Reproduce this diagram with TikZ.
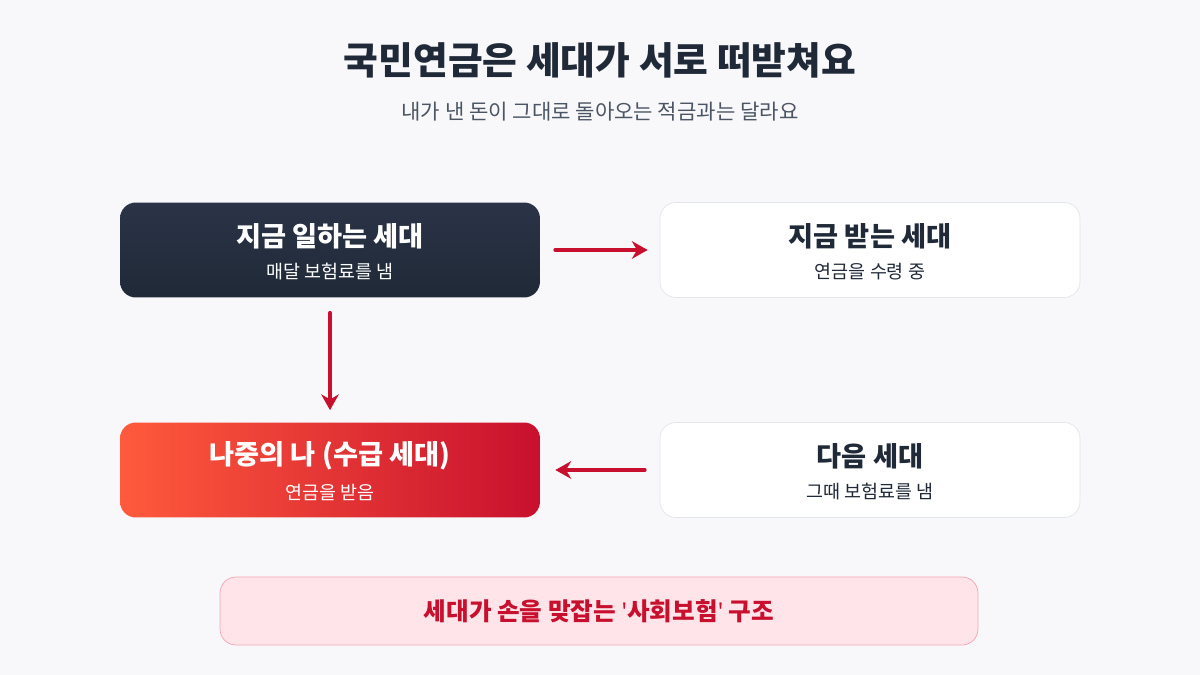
\documentclass[tikz,border=0pt]{standalone}
\usepackage{fontspec}
\setmainfont{Noto Sans CJK KR}
\newfontfamily\lat{Noto Sans}[Ligatures=ResetAll]
\newcommand{\kb}{\bfseries}
\newcommand{\sq}{{\lat\bfseries\char"27}}
\usetikzlibrary{arrows.meta}
\definecolor{dark}{HTML}{1F2937}
\definecolor{dark2}{HTML}{2B3447}
\definecolor{accent}{HTML}{C8102E}
\definecolor{orng}{HTML}{FF5A3C}
\definecolor{greyt}{HTML}{4B5563}
\definecolor{bord}{HTML}{E2E5EA}
\definecolor{bg}{HTML}{F8F8FA}
\definecolor{pinkf}{HTML}{FFE5EA}
\definecolor{pinkb}{HTML}{F4A3B0}
\tikzset{
  card/.style={rounded corners=9pt,minimum width=8.4cm,minimum height=1.9cm},
  lightcard/.style={card,draw=bord,fill=white},
  ttl/.style={font=\kb\fontsize{15.5}{17}\selectfont},
  sub/.style={font=\fontsize{10.5}{12}\selectfont},
  arr/.style={draw=accent,line width=2.2pt,-{Stealth[length=9pt,width=10pt]},line cap=round}
}
\begin{document}
\begin{tikzpicture}[x=0.02cm,y=-0.02cm]
\fill[bg] (0,0) rectangle (1200,675);
\useasboundingbox (0,0) rectangle (1200,675);
\node[font=\kb\fontsize{21.5}{24}\selectfont,text=dark] (t) at (600,60) {국민연금은 세대가 서로 떠받쳐요};
\node[font=\fontsize{12}{14}\selectfont,text=greyt] (s) at (600,112) {내가 낸 돈이 그대로 돌아오는 적금과는 달라요};
\node[card,top color=dark2,bottom color=dark,draw=none] (a) at (330,250) {};
\node[ttl,text=white] at (330,236) {지금 일하는 세대};
\node[sub,text=white] at (330,272) {매달 보험료를 냄};
\node[lightcard] (b) at (870,250) {};
\node[ttl,text=dark] at (870,236) {지금 받는 세대};
\node[sub,text=dark] at (870,272) {연금을 수령 중};
\node[card,left color=orng,right color=accent,draw=none] (c) at (330,470) {};
\node[ttl,text=white] at (330,456) {나중의 나 (수급 세대)};
\node[sub,text=white] at (330,492) {연금을 받음};
\node[lightcard] (d) at (870,470) {};
\node[ttl,text=dark] at (870,456) {다음 세대};
\node[sub,text=dark] at (870,492) {그때 보험료를 냄};
\draw[arr] ([xshift=0.3cm]a.east) -- ([xshift=-0.24cm]b.west);
\draw[arr] ([yshift=-0.3cm]a.south) -- ([yshift=0.24cm]c.north);
\draw[arr] ([xshift=-0.3cm]d.west) -- ([xshift=0.3cm]c.east);
\node[rounded corners=9pt,minimum width=15.16cm,minimum height=1.36cm,fill=pinkf,draw=pinkb,
  font=\kb\fontsize{14}{16}\selectfont,text=accent] (f) at (599,611) {세대가 손을 맞잡는 \sq 사회보험\sq{} 구조};
\end{tikzpicture}
\end{document}
